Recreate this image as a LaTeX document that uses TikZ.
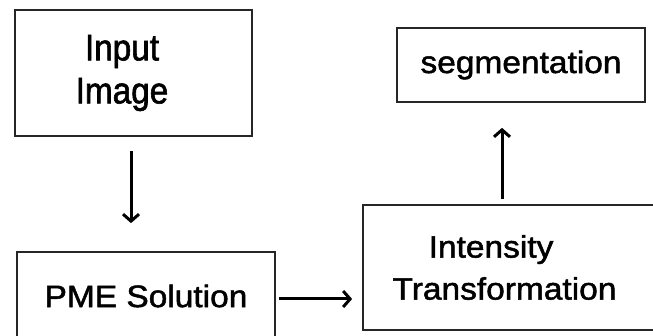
\documentclass[tikz,border=0pt]{standalone}
\usepackage{fontspec}
\setmainfont{Liberation Sans}
\newfontfamily\lblfont[FakeStretch=1.08,FakeBold=1.6]{Liberation Sans}
\newfontfamily\inpfont[FakeStretch=0.9,FakeBold=1.6]{Liberation Sans}
\usetikzlibrary{arrows.meta}
\begin{document}
\begin{tikzpicture}[x=1pt,y=-1pt,
  box/.style={draw=black!85, line width=1.7pt, inner sep=0pt, align=center,
    font=\lblfont\fontsize{31}{42}\selectfont},
  arr/.style={line width=3pt, -{Straight Barb[length=7pt,width=16pt]}}]
\useasboundingbox (0,0) rectangle (653,336);
\clip (0,0) rectangle (653,336);
\fill[white] (0,0) rectangle (653,336);
\node[box, minimum width=237pt, minimum height=126pt,
  font=\inpfont\fontsize{37}{43}\selectfont] (inp) at (133.5,73)
  {\hspace*{-23pt}Input\\\hspace*{-23pt}Image};
\node[box, minimum width=258pt, minimum height=88pt] (pme) at (146,296) {PME Solution};
\node[box, minimum width=300pt, minimum height=125pt] (int) at (513,267.5)
  {\hspace*{-44pt}Intensity\\\hspace*{-17pt}Transformation};
\node[box, minimum width=248pt, minimum height=74pt] (seg) at (521,65) {segmentation};
\draw[arr, shorten <=14pt, shorten >=28pt]
  ([xshift=-2.5pt]inp.south) -- ([xshift=-2.5pt]inp.south |- pme.north);
\draw[arr, shorten <=3pt, shorten >=10pt]
  ([yshift=-3pt]pme.east) -- ([yshift=-3pt]pme.east -| int.west);
\draw[arr, shorten <=5pt, shorten >=25pt]
  ([xshift=-19pt]seg.south |- int.north) -- ([xshift=-19pt]seg.south);
\end{tikzpicture}
\end{document}
